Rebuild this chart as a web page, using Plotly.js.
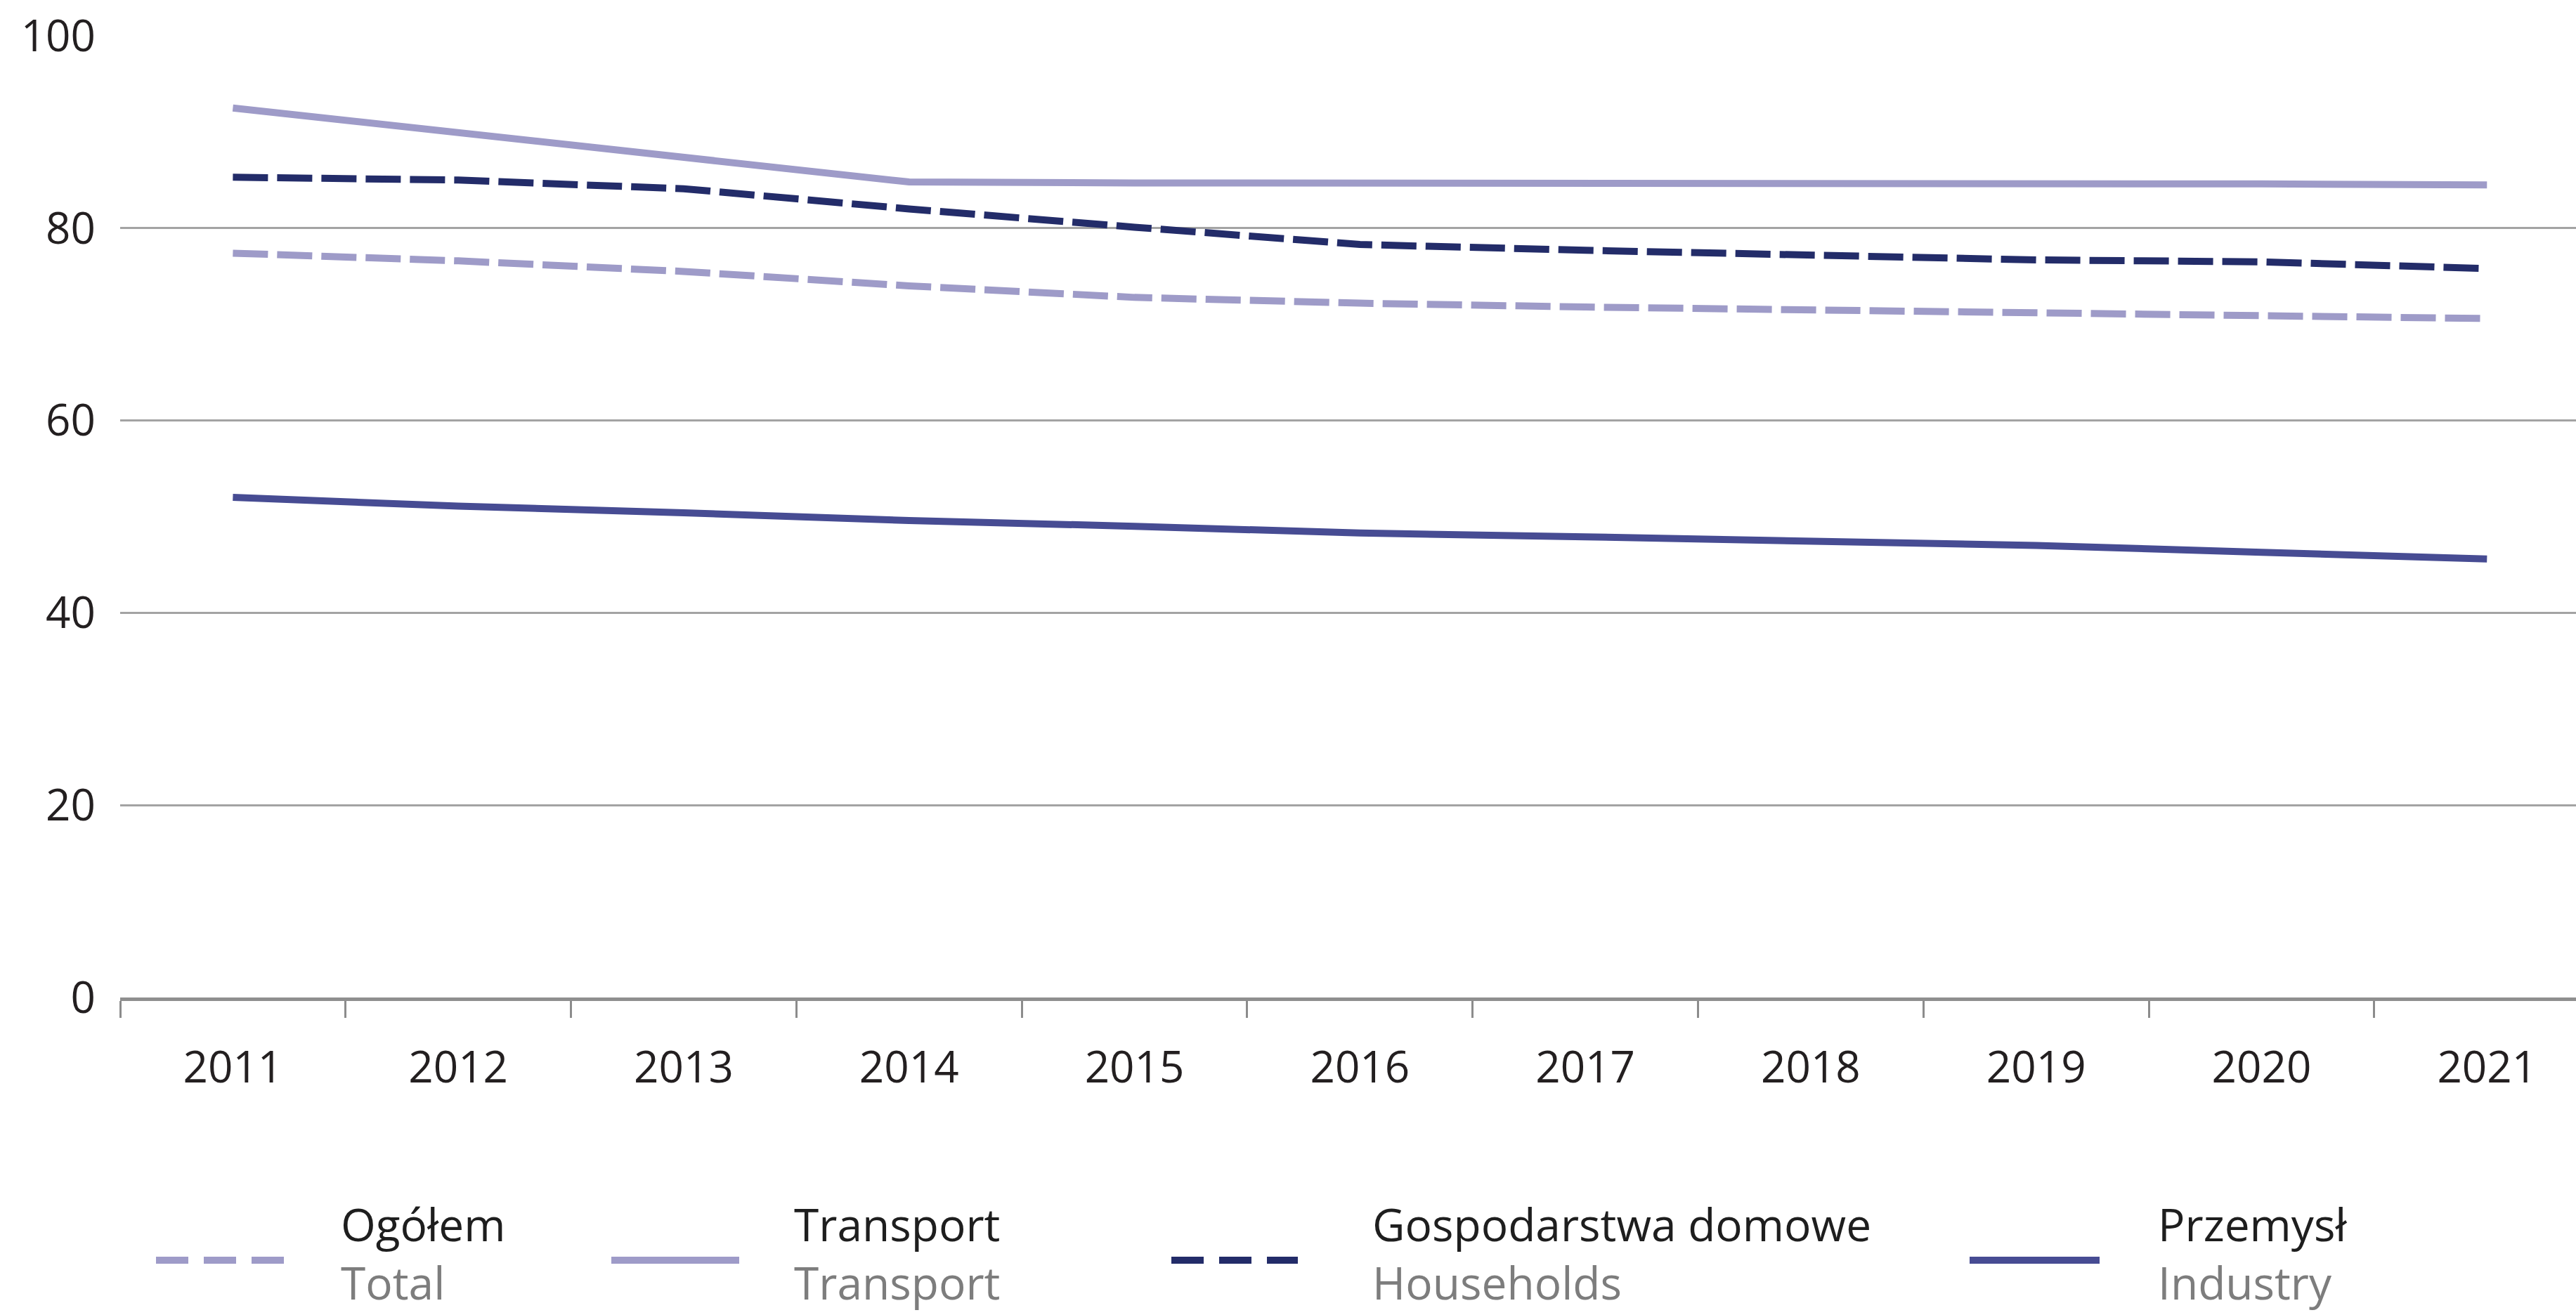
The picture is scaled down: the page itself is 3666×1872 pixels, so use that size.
<!DOCTYPE html>
<html>
<head>
<meta charset="utf-8">
<script src="https://cdn.plot.ly/plotly-3.0.1.min.js"></script>
<style>
html,body{margin:0;padding:0;background:#ffffff;}
#chart{width:3666px;height:1872px;}
</style>
</head>
<body>
<div id="chart"></div>
<script>
// ---- data ----
const years = ['2011','2012','2013','2014','2015','2016','2017','2018','2019','2020','2021'];
const total      = [77.4, 76.6, 75.5, 74.0, 72.8, 72.2, 71.8, 71.5, 71.2, 71.0, 70.6];
const transport  = [92.5, 89.9, 87.4, 84.8, 84.7, 84.7, 84.6, 84.6, 84.6, 84.6, 84.5];
const households = [85.3, 85.0, 84.1, 82.0, 80.1, 78.3, 77.7, 77.2, 76.7, 76.5, 75.8];
const industry   = [52.0, 51.1, 50.4, 49.6, 49.0, 48.3, 47.9, 47.4, 47.0, 46.3, 45.6];
const namesPl = ['Ogółem', 'Transport', 'Gospodarstwa domowe', 'Przemysł'];
const namesEn = ['Total', 'Transport', 'Households', 'Industry'];
const yTicks = [0, 20, 40, 60, 80, 100];

// ---- styles ----
const W = 3666, H = 1872;
const L = 171, T = 51, B = 1420, R = 3666;
const FONT = 'Open Sans, Noto Sans, sans-serif';
const cLight = '#9e9bc8', cNavy = '#232c69', cIndigo = '#474c93';
const series = [
  {y: total,      color: cLight,  dash: '50px,13px'},
  {y: transport,  color: cLight,  dash: 'solid'},
  {y: households, color: cNavy,   dash: '50px,13px'},
  {y: industry,   color: cIndigo, dash: 'solid'}
];
const legendDash = '46px,22px';

const traces = series.map((s, i) => ({
  type: 'scatter', mode: 'lines', x: years, y: s.y, name: namesPl[i],
  line: {color: s.color, width: 10, dash: s.dash}, showlegend: false, hoverinfo: 'x+y+name'
}));

const px = x => (x - L) / (R - L);
const py = y => (B - y) / (B - T);

// custom legend geometry (pixels)
const sampleX = [[222, 404], [870, 1052], [1667, 1847], [2803, 2988]];
const textX = [484, 1129, 1952, 3070];
const sampleY = 1794, textBottom = 1870;

const shapes = [];
const annotations = [];
series.forEach((s, i) => {
  shapes.push({type: 'line', xref: 'paper', yref: 'paper',
    x0: px(sampleX[i][0]), x1: px(sampleX[i][1]), y0: py(sampleY), y1: py(sampleY),
    line: {color: s.color, width: 10, dash: s.dash === 'solid' ? 'solid' : legendDash}});
  annotations.push({xref: 'paper', yref: 'paper', x: px(textX[i]), y: py(textBottom),
    xanchor: 'left', yanchor: 'bottom', align: 'left', showarrow: false, borderpad: 0,
    text: namesPl[i] + '<br><span style="color:#7d7d7d">' + namesEn[i] + '</span>',
    font: {family: FONT, size: 64, color: '#1e1e1e'}});
});

const xRange = [-0.5, 10.395];
const layout = {
  width: W, height: H,
  margin: {l: L, r: W - R, t: T, b: H - B, pad: 0},
  paper_bgcolor: '#ffffff', plot_bgcolor: '#ffffff',
  font: {family: FONT, size: 62, color: '#231f20'},
  showlegend: false,
  xaxis: {
    type: 'category', range: xRange, tickson: 'boundaries',
    ticks: 'outside', ticklen: 24, tickwidth: 3, tickcolor: '#8c8c8c',
    showline: true, linecolor: '#8f8f8f', linewidth: 5,
    showgrid: false, zeroline: false,
    tickfont: {family: FONT, size: 62, color: '#231f20'},
    ticklabelstandoff: 42, fixedrange: true
  },
  xaxis2: {
    overlaying: 'x', anchor: 'y', side: 'bottom', type: 'linear', range: xRange,
    tickvals: years.map((_, i) => i - 0.5),
    ticks: 'inside', ticklen: 13, tickwidth: 3, tickcolor: '#8c8c8c',
    showticklabels: false, showgrid: false, zeroline: false, showline: false, fixedrange: true
  },
  yaxis: {
    range: [0, 100], tickvals: yTicks, ticktext: yTicks.map(String),
    showgrid: true, gridcolor: '#a3a3a3', gridwidth: 3,
    zeroline: false, showline: false, ticks: '',
    tickfont: {family: FONT, size: 62, color: '#231f20'},
    ticklabelstandoff: 34, fixedrange: true
  },
  shapes: shapes,
  annotations: annotations
};

Plotly.newPlot('chart', traces, layout, {displayModeBar: false, staticPlot: true});
</script>
</body>
</html>
